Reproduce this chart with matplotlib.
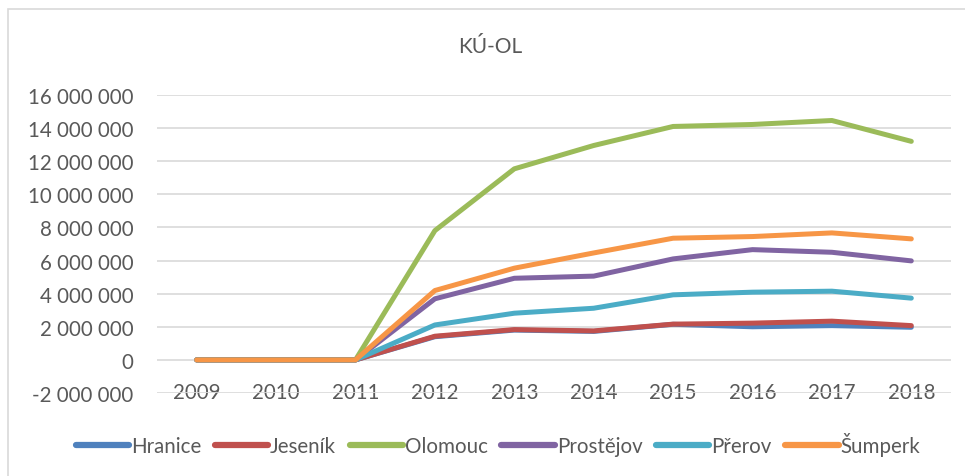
import matplotlib
matplotlib.use("Agg")
import matplotlib.pyplot as plt
from matplotlib.patches import Rectangle
from matplotlib.ticker import FuncFormatter

years = ["2009", "2010", "2011", "2012", "2013", "2014", "2015", "2016", "2017", "2018"]
series_names = ["Hranice", "Jeseník", "Olomouc", "Prostějov", "Přerov", "Šumperk"]
hranice   = [0, 0, 0, 1.40e6, 1.80e6, 1.72e6, 2.15e6, 2.00e6, 2.07e6, 1.97e6]
jesenik   = [0, 0, 0, 1.43e6, 1.83e6, 1.75e6, 2.16e6, 2.22e6, 2.34e6, 2.07e6]
olomouc   = [0, 0, 0, 7.81e6, 11.54e6, 12.95e6, 14.10e6, 14.22e6, 14.46e6, 13.20e6]
prostejov = [0, 0, 0, 3.69e6, 4.93e6, 5.06e6, 6.10e6, 6.66e6, 6.50e6, 5.98e6]
prerov    = [0, 0, 0, 2.11e6, 2.82e6, 3.12e6, 3.93e6, 4.09e6, 4.15e6, 3.73e6]
sumperk   = [0, 0, 0, 4.19e6, 5.54e6, 6.46e6, 7.35e6, 7.45e6, 7.67e6, 7.31e6]
colors = ["#4F81BD", "#C0504D", "#9BBB59", "#8064A2", "#4BACC6", "#F79646"]

plt.rcParams['font.family'] = ['Lato', 'DejaVu Sans']
txt = "#595959"
fs = 14.8

fig = plt.figure(figsize=(9.65, 4.77), dpi=100)
W, H = 965, 477
fig.patches.append(Rectangle((8 / W, -0.1), 1.2, (477 - 10) / H + 0.1,
                             transform=fig.transFigure, fill=False,
                             edgecolor="#D9D9D9", linewidth=1.2))

ax = fig.add_axes([157 / W, (H - 394) / H, (951 - 157) / W, (394 - 96) / H])
x = list(range(len(years)))
for name, vals, c in zip(series_names, [hranice, jesenik, olomouc, prostejov, prerov, sumperk], colors):
    ax.plot(x, vals, color=c, lw=3.6, label=name, solid_capstyle="round", solid_joinstyle="round")

ax.set_xlim(-0.5, len(years) - 0.5)
ax.set_ylim(-2e6, 16e6)
ax.set_yticks([i * 2e6 for i in range(-1, 9)])
ax.yaxis.set_major_formatter(FuncFormatter(lambda v, p: f"{int(round(v)):,}".replace(",", " ")))
ax.grid(axis="y", color="#D9D9D9", lw=1.2)
ax.set_axisbelow(True)
for s in ax.spines.values():
    s.set_visible(False)
ax.set_xticks(x)
ax.set_xticklabels(years)
ax.tick_params(axis="both", length=0, labelsize=fs, labelcolor=txt)
ax.tick_params(axis="y", pad=17)
ax.tick_params(axis="x", pad=-8)

fig.text(490 / W, 1 - 47 / H, "KÚ-OL", ha="center", va="center", fontsize=15, color=txt)

leg = fig.legend(loc="center", bbox_to_anchor=(498 / W, 1 - 445 / H), ncol=6, frameon=False,
                 fontsize=fs, handlelength=2.6, handletextpad=0.1, columnspacing=0.65,
                 labelcolor=txt)
for l in leg.get_lines():
    l.set_linewidth(4.5)
    l.set_solid_capstyle("round")

fig.savefig("out.png", dpi=100)
